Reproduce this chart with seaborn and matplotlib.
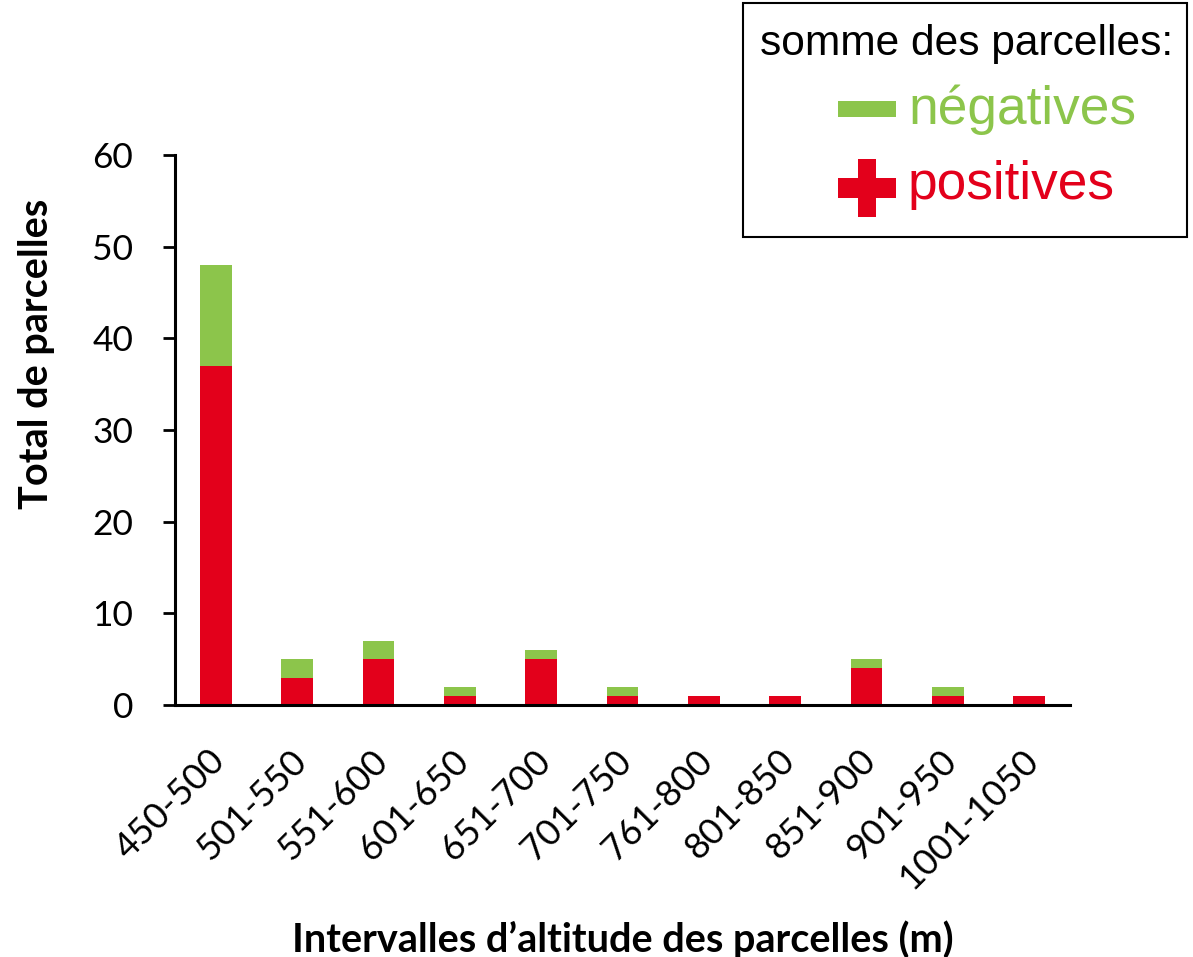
import matplotlib
matplotlib.use('Agg')
import matplotlib.pyplot as plt
import matplotlib.transforms as mtransforms
from matplotlib.patches import Rectangle
import seaborn as sns
import pandas as pd

# données
intervalles = ['450-500', '501-550', '551-600', '601-650', '651-700', '701-750',
               '761-800', '801-850', '851-900', '901-950', '1001-1050']
positives = [37, 3, 5, 1, 5, 1, 1, 1, 4, 1, 1]
negatives = [11, 2, 2, 1, 1, 1, 0, 0, 1, 1, 0]

VERT = '#8CC54B'
ROUGE = '#E3001B'

df = pd.DataFrame({'intervalle': intervalles, 'positives': positives, 'negatives': negatives})
df['total'] = df['positives'] + df['negatives']

sns.set_theme(style='white')
plt.rcParams['font.family'] = ['Lato', 'DejaVu Sans']

fig = plt.figure(figsize=(11.93, 9.57), dpi=100)
ax = fig.add_axes([0.1467, 0.2633, 0.7502, 0.5747])

# barres empilées : total (vert) puis positives (rouge) par-dessus
sns.barplot(data=df, x='intervalle', y='total', color=VERT, width=0.39,
            saturation=1, linewidth=0, ax=ax)
sns.barplot(data=df, x='intervalle', y='positives', color=ROUGE, width=0.39,
            saturation=1, linewidth=0, ax=ax)

ax.set_xlim(-0.5, len(intervalles) - 0.5)
ax.set_ylim(0, 60)
ax.set_yticks(range(0, 61, 10))
sns.despine(ax=ax)
for s in ['left', 'bottom']:
    ax.spines[s].set_linewidth(2.2)
    ax.spines[s].set_color('black')

ax.tick_params(axis='y', direction='out', length=9, width=2, colors='black',
               labelsize=25.5, left=True, pad=21)
ax.tick_params(axis='x', length=0, labelsize=26, pad=28, colors='black')
decal = mtransforms.ScaledTranslation(-0.08, 0, fig.dpi_scale_trans)
for lab in ax.get_xticklabels():
    lab.set_rotation(45)
    lab.set_ha('right')
    lab.set_va('top')
    lab.set_rotation_mode('anchor')
    lab.set_transform(lab.get_transform() + decal)

ax.set_xlabel('Intervalles d\u2019altitude des parcelles (m)', fontsize=28.5,
              fontweight='bold', color='black')
ax.set_ylabel('Total de parcelles', fontsize=28.5, fontweight='bold', color='black')
ax.xaxis.set_label_coords(0.5, -0.391)
ax.yaxis.set_label_coords(-0.134, 0.638)

# légende dessinée à la main
W, H = 1193, 957
def fx(x):
    return x / W
def fy(y):
    return 1 - y / H

fig.patches.append(Rectangle((fx(743), fy(237)), fx(1187 - 743), (237 - 3) / H,
                             transform=fig.transFigure, fill=False,
                             edgecolor='black', linewidth=1.5))
fig.text(fx(760), fy(55), 'somme des parcelles:', fontsize=30.6,
         family='Liberation Sans', va='baseline', ha='left', color='black')

# signe moins
fig.patches.append(Rectangle((fx(838), fy(117)), fx(58), 16 / H,
                             transform=fig.transFigure, color=VERT, lw=0))
fig.text(fx(908), fy(124), 'négatives', fontsize=38.3, family='Liberation Sans',
         va='baseline', ha='left', color=VERT)

# signe plus
fig.patches.append(Rectangle((fx(838), fy(198)), fx(58), 20 / H,
                             transform=fig.transFigure, color=ROUGE, lw=0))
fig.patches.append(Rectangle((fx(858), fy(217)), fx(18), 58 / H,
                             transform=fig.transFigure, color=ROUGE, lw=0))
fig.text(fx(908), fy(199), 'positives', fontsize=38.3, family='Liberation Sans',
         va='baseline', ha='left', color=ROUGE)

fig.savefig('out.png', dpi=100, facecolor='white')
